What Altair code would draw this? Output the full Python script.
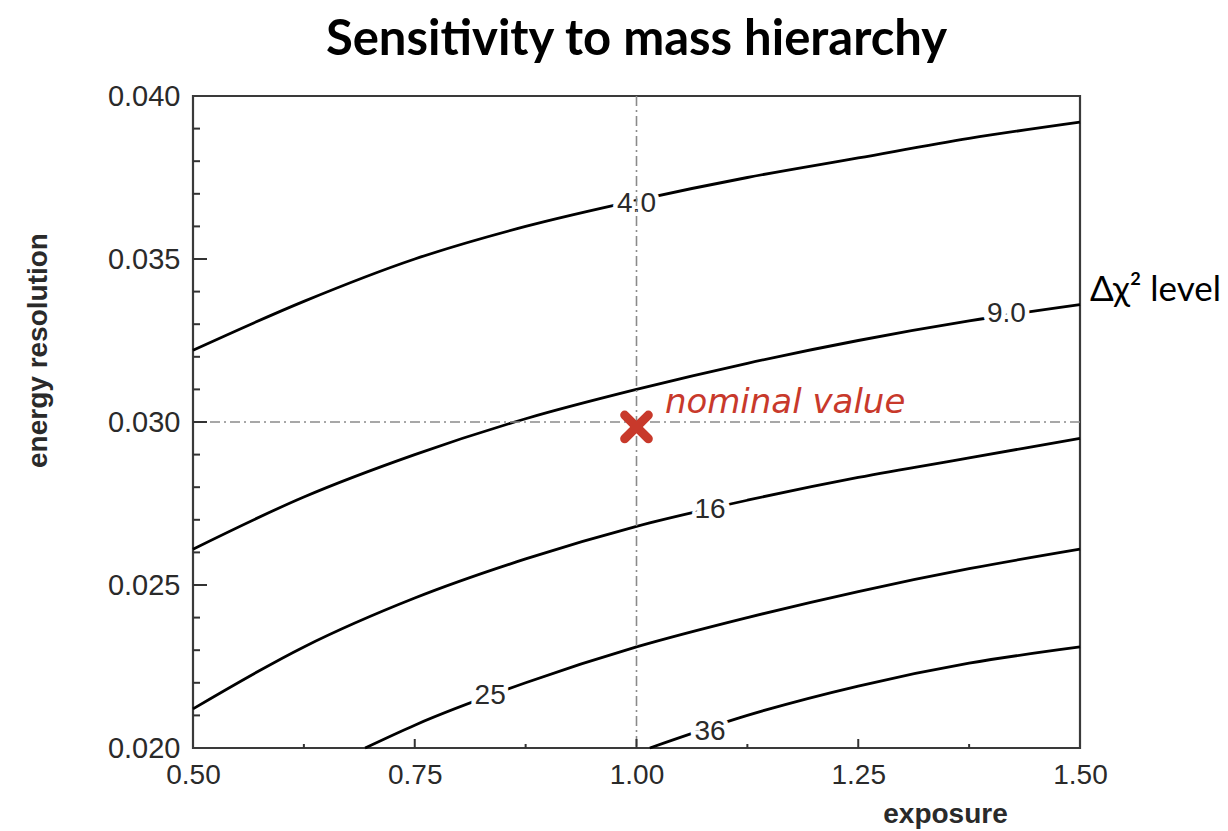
import altair as alt
import pandas as pd

# Δχ² contour paths: exposure (x) vs. energy resolution (y)
exposure_full = [0.50, 0.625, 0.75, 0.875, 1.00, 1.125, 1.25, 1.375, 1.50]
res_level_4 = [0.0322, 0.0337, 0.0350, 0.0360, 0.0368, 0.0375, 0.0381, 0.0387, 0.0392]
res_level_9 = [0.0261, 0.0277, 0.0290, 0.0301, 0.0310, 0.0318, 0.0325, 0.0331, 0.0336]
res_level_16 = [0.0212, 0.0231, 0.0246, 0.0258, 0.0268, 0.0276, 0.0283, 0.0289, 0.0295]
exposure_25 = [0.694, 0.75, 0.875, 1.00, 1.125, 1.25, 1.375, 1.50]
res_level_25 = [0.0200, 0.0207, 0.0220, 0.0231, 0.0240, 0.0248, 0.0255, 0.0261]
exposure_36 = [1.015, 1.125, 1.25, 1.375, 1.50]
res_level_36 = [0.0200, 0.0210, 0.0219, 0.0226, 0.0231]

# in-line contour labels
label_text = ["4.0", "9.0", "16", "25", "36"]
label_x = [1.000, 1.417, 1.083, 0.835, 1.083]
label_y = [0.0367, 0.0333, 0.0273, 0.0216, 0.0205]

# nominal working point
nominal_x = [1.0]
nominal_y = [0.0300]
nominal_mark_y = [0.02985]

# axis ticks
x_major = [0.50, 0.75, 1.00, 1.25, 1.50]
x_minor = [0.625, 0.875, 1.125, 1.375]
y_major = [0.020, 0.025, 0.030, 0.035, 0.040]
y_minor = [0.021, 0.022, 0.023, 0.024, 0.026, 0.027, 0.028, 0.029,
           0.031, 0.032, 0.033, 0.034, 0.036, 0.037, 0.038, 0.039]

W, H = 887, 652
RED = "#c8392b"
INK = "#2a2a2a"

rows = []
for lvl, xs, ys in [("4.0", exposure_full, res_level_4),
                    ("9.0", exposure_full, res_level_9),
                    ("16", exposure_full, res_level_16),
                    ("25", exposure_25, res_level_25),
                    ("36", exposure_36, res_level_36)]:
    for xv, yv in zip(xs, ys):
        rows.append({"level": lvl, "exposure": xv, "resolution": yv})
contours = pd.DataFrame(rows)
labels = pd.DataFrame({"text": label_text, "exposure": label_x, "resolution": label_y})

xscale = alt.Scale(domain=[0.5, 1.5], nice=False, zero=False)
yscale = alt.Scale(domain=[0.020, 0.040], nice=False, zero=False)

x_axis = alt.Axis(values=x_major, format=".2f", ticks=False, tickSize=0, domain=False, grid=False,
                  labelFlush=False, labelOverlap=False,
                  labelFont="Liberation Sans", labelFontSize=28, labelColor=INK, labelPadding=13,
                  title="exposure", titleFont="Liberation Sans", titleFontSize=28,
                  titleFontWeight="bold", titleColor=INK, titleX=752, titleY=66,
                  titleAlign="center", titleBaseline="middle")
y_axis = alt.Axis(values=y_major, format=".3f", ticks=False, tickSize=0, domain=False, grid=False,
                  labelFlush=False, labelOverlap=False,
                  labelFont="Liberation Sans", labelFontSize=29, labelColor=INK, labelPadding=13,
                  title="energy resolution", titleFont="Liberation Sans", titleFontSize=28,
                  titleFontWeight="bold", titleColor=INK, titleAngle=270, titleX=-155, titleY=254,
                  titleAlign="center", titleBaseline="middle")

lines = alt.Chart(contours).mark_line(interpolate="monotone", strokeWidth=2.8, color="black").encode(
    x=alt.X("exposure:Q", scale=xscale, axis=x_axis),
    y=alt.Y("resolution:Q", scale=yscale, axis=y_axis),
    detail="level:N",
)

halo = alt.Chart(labels).mark_text(font="Liberation Sans", fontSize=28, stroke="white",
                                   strokeWidth=9, fill="white").encode(
    x="exposure:Q", y="resolution:Q", text="text:N")
text = alt.Chart(labels).mark_text(font="Liberation Sans", fontSize=28, color=INK).encode(
    x="exposure:Q", y="resolution:Q", text="text:N")

dash = [10, 4, 2, 4]
vref = alt.Chart(pd.DataFrame({"exposure": nominal_x})).mark_rule(
    color="#8a8a8a", strokeWidth=1.6, strokeDash=dash).encode(x="exposure:Q")
href = alt.Chart(pd.DataFrame({"resolution": nominal_y})).mark_rule(
    color="#8a8a8a", strokeWidth=1.6, strokeDash=dash).encode(y="resolution:Q")

# inward tick marks along the left and bottom edges
yt_major = alt.Chart(pd.DataFrame({"resolution": y_major[1:-1]})).mark_rule(
    color="#333", strokeWidth=2).encode(y="resolution:Q", x=alt.value(0), x2=alt.value(14))
yt_minor = alt.Chart(pd.DataFrame({"resolution": y_minor})).mark_rule(
    color="#333", strokeWidth=2).encode(y="resolution:Q", x=alt.value(0), x2=alt.value(7))
xt_major = alt.Chart(pd.DataFrame({"exposure": x_major[1:-1]})).mark_rule(
    color="#333", strokeWidth=2).encode(x="exposure:Q", y=alt.value(H), y2=alt.value(H - 9))
xt_minor = alt.Chart(pd.DataFrame({"exposure": x_minor})).mark_rule(
    color="#333", strokeWidth=2).encode(x="exposure:Q", y=alt.value(H), y2=alt.value(H - 4))

nominal_pt = alt.Chart(pd.DataFrame({"exposure": nominal_x, "resolution": nominal_mark_y})).mark_point(
    shape="M-1,-1L1,1M-1,1L1,-1", size=560, filled=False, stroke=RED, strokeWidth=9,
    strokeCap="round", opacity=1).encode(x="exposure:Q", y="resolution:Q")
nominal_txt = alt.Chart(pd.DataFrame({"exposure": [1.032], "resolution": [0.03028],
                                      "text": ["nominal value"]})).mark_text(
    font="DejaVu Sans", fontStyle="italic", fontSize=34, color=RED, align="left",
    baseline="alphabetic").encode(x="exposure:Q", y="resolution:Q", text="text:N")

level_note = alt.Chart(pd.DataFrame({"text": ["Δχ² level"]})).mark_text(
    font="Lato", fontSize=35, color="black", align="left", baseline="middle").encode(
    x=alt.value(W + 10), y=alt.value(194), text="text:N")

chart = alt.layer(
    lines, halo, text, vref, href, yt_major, yt_minor, xt_major, xt_minor,
    nominal_pt, nominal_txt, level_note,
).properties(
    width=W, height=H,
    title=alt.TitleParams("Sensitivity to mass hierarchy", font="Lato", fontSize=49,
                          fontWeight="bold", color="black", anchor="middle", offset=17),
    autosize="none",
    padding={"left": 193, "top": 96, "right": 148, "bottom": 83},
).configure(background="white").configure_view(stroke="#3a3a3a", strokeWidth=2.2)

chart.save("out.html", embed_options={"renderer": "svg", "actions": False})
